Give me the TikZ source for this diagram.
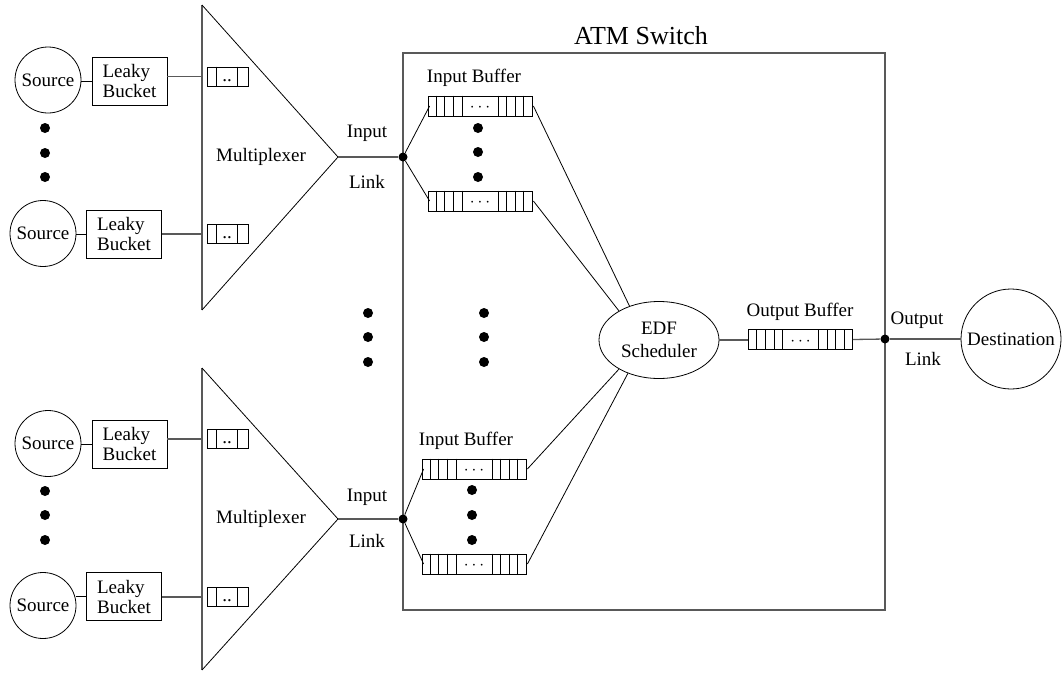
\documentclass[tikz,border=0pt]{standalone}
\usepackage{fontspec}
\setmainfont{Liberation Serif}
\usetikzlibrary{shapes.geometric}
\newcommand{\inbuf}[3]{%
  \node[bufbox, minimum width=104pt, minimum height=20pt] (#1) at (#2,#3) {};
  \foreach \k in {1,2,3,4} {
    \draw[thinline] ([xshift=\k*8.625pt]#1.north west) -- ([xshift=\k*8.625pt]#1.south west);
    \draw[thinline] ([xshift=-\k*8.625pt]#1.north east) -- ([xshift=-\k*8.625pt]#1.south east);
  }
  \node[inner sep=0pt] (#1dots) at ([yshift=-2pt]#1.center) {$\cdots$};
}
\newcommand{\smbuf}[3]{%
  \node[bufbox, minimum width=41pt, minimum height=19pt] (#1) at (#2,#3) {};
  \draw[thinline] ([xshift=10pt]#1.north west) -- ([xshift=10pt]#1.south west);
  \draw[thinline] ([xshift=-11pt]#1.north east) -- ([xshift=-11pt]#1.south east);
  \node[inner sep=0pt] (#1dots) at ([xshift=-0.5pt,yshift=-4pt]#1.center) {..};
}
\begin{document}
\begin{tikzpicture}[x=1pt,y=-1pt,
  every node/.style={font=\fontsize{19}{20}\selectfont},
  thinline/.style={draw=black, line width=0.8pt},
  gline/.style={draw=black!65, line width=1.3pt},
  src/.style={circle, draw, line width=0.8pt, minimum size=66pt, inner sep=0pt},
  bucket/.style={rectangle, draw, line width=0.8pt, minimum width=75pt, minimum height=48pt, inner sep=0pt, align=left},
  bufbox/.style={rectangle, draw, line width=0.8pt, inner sep=0pt},
  jdot/.style={circle, fill=black, inner sep=0pt, minimum size=9pt},
  lbl/.style={inner sep=0pt}
]
\useasboundingbox (0,0) rectangle (1062,672);

% ---------- ATM switch box ----------
\draw[gline] (403,53) rectangle (885,610);
\node[lbl, anchor=base, font=\fontsize{26}{28}\selectfont] (title) at (641,44) {ATM Switch};

% ---------- multiplexers ----------
\coordinate (m1top) at (202,5);
\coordinate (m1bot) at (202,310);
\coordinate (m1apex) at (338,157);
\coordinate (m2top) at (202,368);
\coordinate (m2bot) at (202,670);
\coordinate (m2apex) at (338,519);
\draw[gline] (m1top) -- (m1bot);
\draw[thinline] (m1top) -- (m1apex) -- (m1bot);
\draw[gline] (m2top) -- (m2bot);
\draw[thinline] (m2top) -- (m2apex) -- (m2bot);
\node[lbl] (mux1) at (261,157) {Multiplexer};
\node[lbl] (mux2) at (261,519) {Multiplexer};

% ---------- sources and leaky buckets ----------
\node[src] (s1) at (48,80) {Source};
\node[bucket] (lb1) at (129.5,81) {Leaky\\Bucket};
\smbuf{sb1}{227.5}{76.5}
\node[src] (s2) at (43,233.5) {Source};
\node[bucket] (lb2) at (124,234) {Leaky\\Bucket};
\smbuf{sb2}{227.5}{234}
\node[src] (s3) at (48,443.5) {Source};
\node[bucket] (lb3) at (129.5,444) {Leaky\\Bucket};
\smbuf{sb3}{227.5}{439}
\node[src] (s4) at (43,605.5) {Source};
\node[bucket] (lb4) at (124,596.5) {Leaky\\Bucket};
\smbuf{sb4}{227.5}{597}

\foreach \i in {1,2,3,4} {
  \draw[thinline] (lb\i.west) -- (lb\i.west -| s\i.east);
}
\draw[gline] (lb1.east |- sb1.west) -- (sb1.west -| m1top);
\draw[gline] (lb2.east |- sb2.west) -- (sb2.west -| m1top);
\draw[gline] (lb3.east |- sb3.west) -- (sb3.west -| m2top);
\draw[gline] (lb4.east |- sb4.west) -- (sb4.west -| m2top);

% vertical ellipsis dots
\foreach \y in {128,153,177,491,515,540} \fill (45,\y) circle (5);
\foreach \y in {313,337,362} { \fill (368,\y) circle (5); \fill (484,\y) circle (5); }
\foreach \y in {128,152,177} \fill (478,\y) circle (5);
\foreach \y in {490,515,540} \fill (472,\y) circle (5);

% ---------- input links ----------
\node[jdot] (j1) at (403,157) {};
\node[jdot] (j2) at (403,519) {};
\draw[gline] (m1apex) -- (j1);
\draw[gline] (m2apex) -- (j2);
\node[lbl] (in1) at (367,133) {Input};
\node[lbl] (lk1) at (367,182) {Link};
\node[lbl] (in2) at (367,497) {Input};
\node[lbl] (lk2) at (367,541) {Link};

% ---------- input buffers ----------
\inbuf{ib1}{480}{106}
\inbuf{ib2}{480}{201}
\inbuf{ib3}{474}{469}
\inbuf{ib4}{474}{564}
\node[lbl] (ibl1) at (474,78) {Input Buffer};
\node[lbl] (ibl2) at (466,441) {Input Buffer};
\foreach \b in {ib1,ib2} \draw[thinline] (j1) -- ([xshift=2pt]\b.west);
\foreach \b in {ib3,ib4} \draw[thinline] (j2) -- ([xshift=2pt]\b.west);

% ---------- scheduler ----------
\node[ellipse, draw, line width=0.8pt, minimum width=120pt, minimum height=77pt, inner sep=0pt, align=center,
  font=\fontsize{19}{23}\selectfont] (edf) at (659,340) {EDF\\Scheduler};
\draw[thinline] ([xshift=1pt]ib1.east) -- (edf.131);
\draw[thinline] ([xshift=1pt]ib2.east) -- (edf.144);
\draw[thinline] ([xshift=1pt]ib3.east) -- (edf.216);
\draw[thinline] ([xshift=1pt]ib4.east) -- (edf.227);

% ---------- output ----------
\inbuf{ob}{800.5}{339.5}
\node[lbl] (obl) at (800,312) {Output Buffer};
\node[jdot] (j3) at (885,339) {};
\node[circle, draw, line width=0.8pt, minimum size=100pt, inner sep=0pt] (dest) at (1011,339) {Destination};
\draw[gline] (edf.east) -- (ob.west |- edf.east);
\draw[gline] (ob.east) -- (j3);
\draw[gline] (j3) -- (dest.west);
\node[lbl] (out) at (917,320) {Output};
\node[lbl] (olk) at (923,359) {Link};
\end{tikzpicture}
\end{document}
